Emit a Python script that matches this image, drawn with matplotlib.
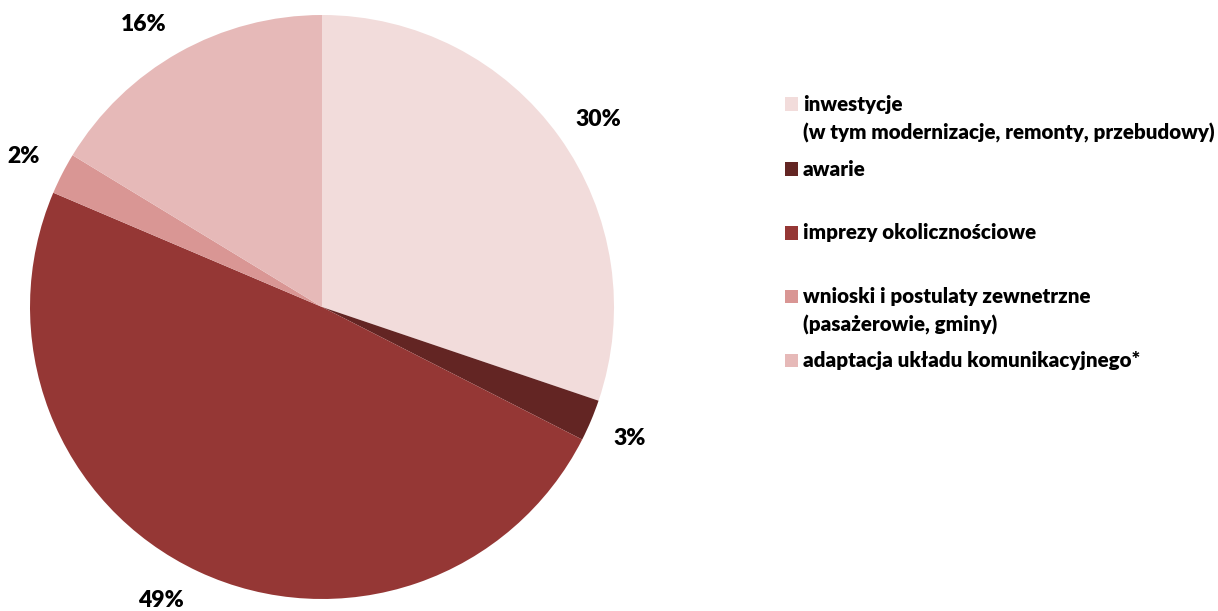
import numpy as np
import matplotlib.pyplot as plt
from matplotlib.patches import Rectangle

plt.rcParams['font.family'] = ['Lato', 'DejaVu Sans']

categories = ['inwestycje\n(w tym modernizacje, remonty, przebudowy)',
              'awarie',
              'imprezy okolicznościowe',
              'wnioski i postulaty zewnetrzne\n(pasażerowie, gminy)',
              'adaptacja układu komunikacyjnego*']
shares = [30.2, 2.3, 48.9, 2.3, 16.3]
pct_labels = ['30%', '3%', '49%', '2%', '16%']
colors = ['#F2DCDB', '#632523', '#953735', '#D99694', '#E6B9B8']
label_shift = [-1.5, -0.3, -3.7, 0.4, 2.9]  # degrees, best-fit nudges

W, H = 1218, 611
fig = plt.figure(figsize=(W / 100, H / 100), dpi=100)
ax = fig.add_axes([30 / W, 12 / H, 584 / W, 584 / H])

wedges, _ = ax.pie(shares, colors=colors, startangle=90, counterclock=False,
                   radius=1, wedgeprops=dict(linewidth=0))
for w, lab, sh in zip(wedges, pct_labels, label_shift):
    ang = np.deg2rad((w.theta1 + w.theta2) / 2 + sh)
    ax.text(1.145 * np.cos(ang), 1.145 * np.sin(ang), lab, ha='center',
            va='center', fontsize=16.5, fontweight='heavy', color='black')
ax.set_xlim(-1, 1)
ax.set_ylim(-1, 1)
ax.set_aspect('equal')
ax.axis('off')

# legend drawn by hand
rows_y = [104, 169, 233, 296, 360]
for name, col, y in zip(categories, colors, rows_y):
    fig.patches.append(Rectangle((785 / W, 1 - (y + 6.5) / H), 13 / W, 13 / H,
                                 transform=fig.transFigure, facecolor=col,
                                 edgecolor='none'))
    fig.text(803 / W, 1 - (y - 9.5) / H, name, fontsize=14.8, fontweight='heavy',
             va='top', ha='left', linespacing=1.55)

fig.savefig('out.png', dpi=100)
